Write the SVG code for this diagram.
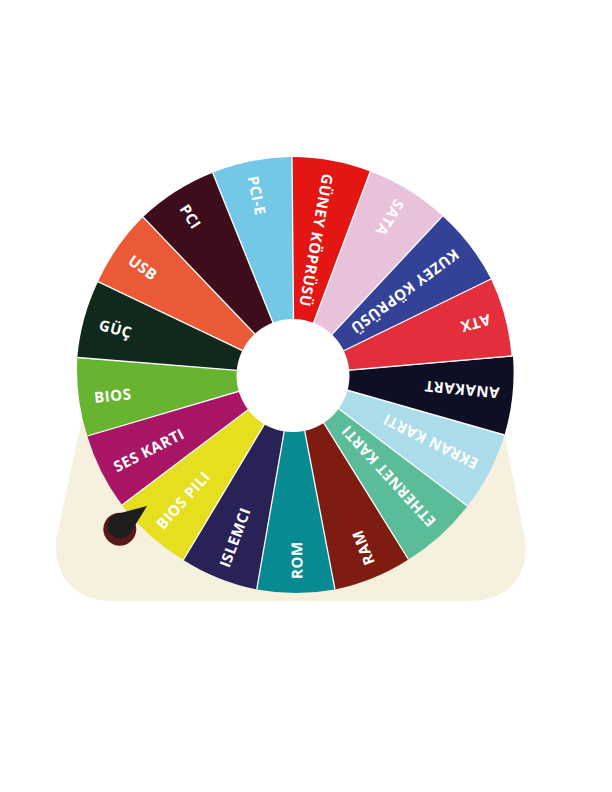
<svg xmlns="http://www.w3.org/2000/svg" width="612" height="792" viewBox="0 0 612 792">
<style>
.lbl{font-family:"Open Sans","Noto Sans","Liberation Sans",sans-serif;font-weight:700;font-size:15px;letter-spacing:0.5px;fill:#ffffff}
.sep{stroke:#ffffff;stroke-width:1.3;fill:none}
</style>
<rect width="612" height="792" fill="#ffffff"/>
<path id="stand" d="M86,400 L56,540 C53,575 75,601 112,601 L470,601 C505,601 530,578 525,540 L498,400 Z" fill="#F6F0DF"/>
<g id="wheel">
<g id="seg-guney"><path d="M294,375 L292,157 A218.3,218.3 0 0 1 370.3,171.5 Z" fill="#E31613"/><text class="lbl" dy=".45em" transform="translate(294,375) rotate(279.9) translate(204,0) rotate(180)">GÜNEY KÖPRÜSÜ</text></g>
<g id="seg-sata"><path d="M294,375 L370.3,171.5 A218.3,218.3 0 0 1 442.5,216 Z" fill="#E8C1DB"/><text class="lbl" dy=".45em" transform="translate(294,375) rotate(301.75) translate(204,0) rotate(180)">SATA</text></g>
<g id="seg-kuzey"><path d="M294,375 L442.5,216 A218.3,218.3 0 0 1 491,279 Z" fill="#334296"/><text class="lbl" dy=".45em" transform="translate(294,375) rotate(323.5) translate(204,0) rotate(180)">KUZEY KÖPRÜSÜ</text></g>
<g id="seg-atx"><path d="M294,375 L491,279 A218.3,218.3 0 0 1 511.5,356 Z" fill="#E52E3B"/><text class="lbl" dy=".45em" transform="translate(294,375) rotate(344.5) translate(204,0) rotate(180)">ATX</text></g>
<g id="seg-anakart"><path d="M294,375 L513,356.5 A220,220 0 0 1 504.5,435 Z" fill="#0E0F24"/><text class="lbl" dy=".45em" transform="translate(294,375) rotate(5.45) translate(206,0) rotate(180)">ANAKART</text></g>
<g id="seg-ekran"><path d="M294,375 L504.5,435 A218.3,218.3 0 0 1 467.5,506 Z" fill="#AADCE9"/><text class="lbl" dy=".45em" transform="translate(294,375) rotate(26.5) translate(204,0) rotate(180)">EKRAN KARTI</text></g>
<g id="seg-ethernet"><path d="M294,375 L467.5,506 A218.3,218.3 0 0 1 408.5,559.5 Z" fill="#5BBC9A"/><text class="lbl" dy=".45em" transform="translate(294,375) rotate(47.5) translate(204,0) rotate(180)">ETHERNET KARTI</text></g>
<g id="seg-ram"><path d="M294,375 L408.5,559.5 A218.3,218.3 0 0 1 335,589.5 Z" fill="#7E1C12"/><text class="lbl" dy=".45em" transform="translate(294,375) rotate(68.55) translate(204,0) rotate(180)">RAM</text></g>
<g id="seg-rom"><path d="M294,375 L335,589.5 A218.3,218.3 0 0 1 256.7,589.5 Z" fill="#078A92"/><text class="lbl" dy=".45em" transform="translate(294,375) rotate(89.5) translate(204,0) rotate(180)">ROM</text></g>
<g id="seg-islemci"><path d="M294,375 L256.7,589.5 A218.3,218.3 0 0 1 183.3,560 Z" fill="#282256"/><text class="lbl" dy=".45em" transform="translate(294,375) rotate(110.4) translate(204,0) rotate(180)">ISLEMCI</text></g>
<g id="seg-biospili"><path d="M294,375 L183.3,560 A218.3,218.3 0 0 1 122,505 Z" fill="#E6DF1F"/><text class="lbl" dy=".45em" transform="translate(294,375) rotate(131.95) translate(203,0) rotate(180)">BIOS PILI</text></g>
<g id="seg-ses"><path d="M294,375 L122,505 A218.3,218.3 0 0 1 87.3,436 Z" fill="#A81565"/><text class="lbl" dy=".45em" transform="translate(294,375) rotate(153.1) translate(202,0) rotate(180)">SES KARTI</text></g>
<g id="seg-bios"><path d="M294,375 L87.3,436 A218.3,218.3 0 0 1 77.3,357.5 Z" fill="#68B431"/><text class="lbl" dy=".45em" transform="translate(294,375) rotate(173.9) translate(201,0) rotate(180)">BIOS</text></g>
<g id="seg-guc"><path d="M294,375 L77.3,357.5 A218.3,218.3 0 0 1 98,281.7 Z" fill="#11291B"/><text class="lbl" dy=".45em" transform="translate(294,375) rotate(194.9) translate(201,0) rotate(180)">GÜÇ</text></g>
<g id="seg-usb"><path d="M294,375 L98,281.7 A218.3,218.3 0 0 1 143,217 Z" fill="#EB5A36"/><text class="lbl" dy=".45em" transform="translate(294,375) rotate(215.8) translate(201,0) rotate(180)">USB</text></g>
<g id="seg-pci"><path d="M294,375 L143,217 A218.3,218.3 0 0 1 212.7,172.7 Z" fill="#3E0D1B"/><text class="lbl" dy=".45em" transform="translate(294,375) rotate(237.2) translate(202,0) rotate(180)">PCI</text></g>
<g id="seg-pcie"><path d="M294,375 L212.7,172.7 A218.3,218.3 0 0 1 292,157 Z" fill="#73C8E6"/><text class="lbl" dy=".45em" transform="translate(294,375) rotate(258.7) translate(203,0) rotate(180)">PCI-E</text></g>
</g>
<g id="connectors">
<path class="sep" d="M294,375 L292,157 M294,375 L370.3,171.5 M294,375 L442.5,216 M294,375 L491,279 M294,375 L512,356 M294,375 L504.5,435 M294,375 L467.5,506 M294,375 L408.5,559.5 M294,375 L335,589.5 M294,375 L256.7,589.5 M294,375 L183.3,560 M294,375 L122,505 M294,375 L87.3,436 M294,375 L77.3,357.5 M294,375 L98,281.7 M294,375 L143,217 M294,375 L212.7,172.7"/>
</g>
<circle id="hub" cx="293" cy="375.5" r="56.5" fill="#ffffff"/>
<g id="pointer">
<circle cx="119.8" cy="529.2" r="16.5" fill="#5A1A1D"/>
<path d="M147,506 L130.6,532.6 A12.5,12.5 0 1 1 116.8,513.9 Z" fill="#1E1E1C"/>
</g>
</svg>
